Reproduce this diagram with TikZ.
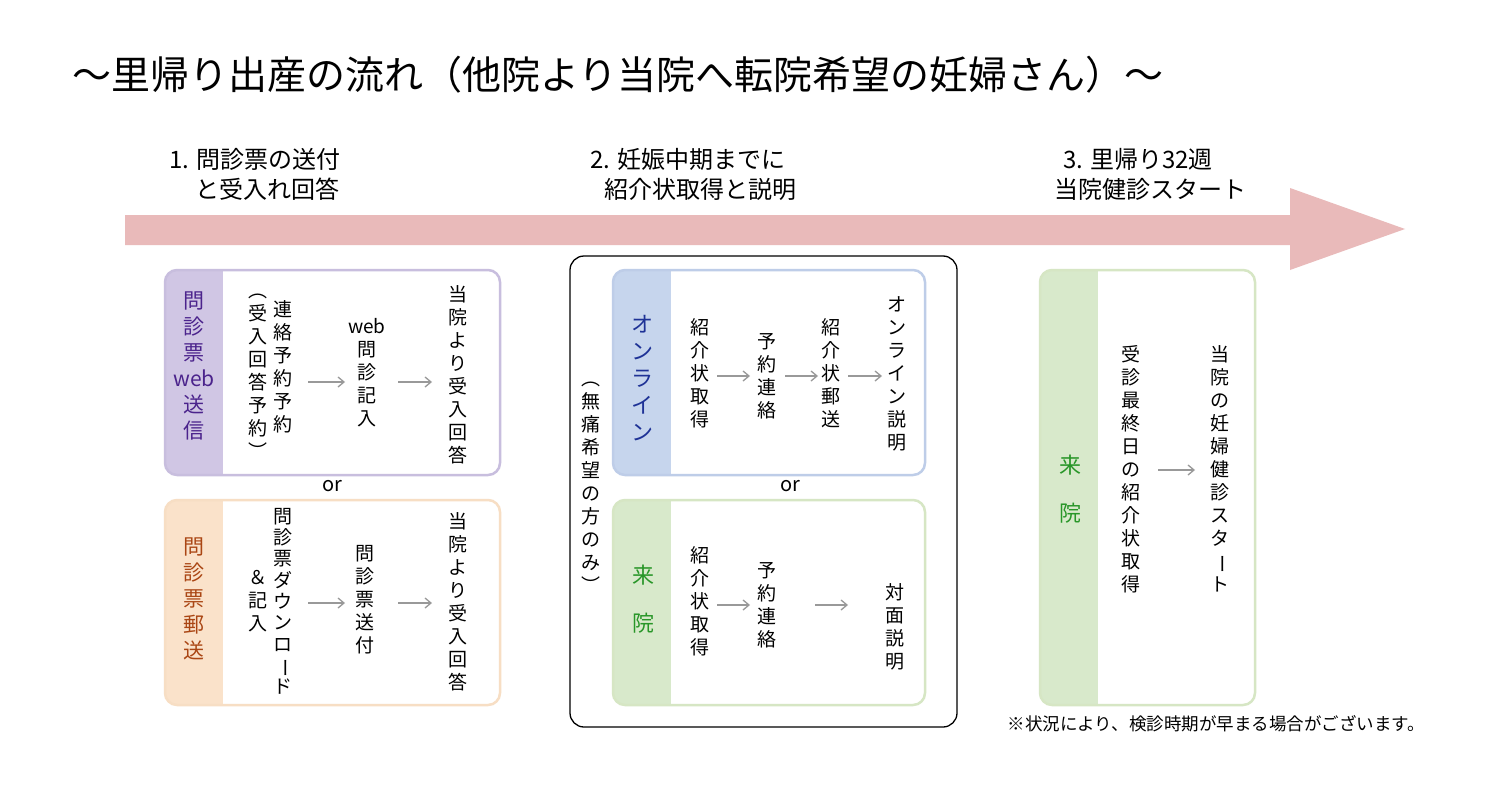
\documentclass[tikz,border=0pt]{standalone}
\usepackage{fontspec}
\setmainfont{Noto Sans CJK JP}
\usetikzlibrary{arrows.meta}
\definecolor{pinkA}{RGB}{233,186,186}
\definecolor{lavB}{RGB}{200,190,222}
\definecolor{lavF}{RGB}{208,198,228}
\definecolor{purT}{RGB}{75,35,140}
\definecolor{peaB}{RGB}{247,222,196}
\definecolor{peaF}{RGB}{250,226,202}
\definecolor{brT}{RGB}{170,70,20}
\definecolor{bluB}{RGB}{190,205,232}
\definecolor{bluF}{RGB}{198,213,237}
\definecolor{bluT}{RGB}{30,50,150}
\definecolor{grnB}{RGB}{214,230,196}
\definecolor{grnF}{RGB}{216,233,203}
\definecolor{grnT}{RGB}{40,150,40}
\newcommand\vb{\rotatebox[origin=c]{-90}{ー}}
\newcommand\mybox[5]{% x1 y1 x2 y2 col
  \fill[white,rounded corners=12pt] (#1,#2) rectangle (#3,#4);
  \begin{scope}
  \clip[rounded corners=12pt] (#1,#2) rectangle (#3,#4);
  \fill[#5F] (#1,#2) rectangle ({#1+58},#4);
  \end{scope}
  \draw[#5B,line width=2.5pt,rounded corners=12pt] (#1,#2) rectangle (#3,#4);}
\tikzset{vt/.style={font=\fontsize{19}{23}\selectfont,align=center,inner sep=0pt,anchor=north},
  lab/.style={font=\fontsize{24}{30}\selectfont,align=center,inner sep=0pt,anchor=north},
  ar/.style={-{Straight Barb[length=6pt,width=10pt]},gray!80,line width=1.3pt}}
\begin{document}
\begin{tikzpicture}[x=1pt,y=-1pt]
\useasboundingbox (0,0) rectangle (1500,792);
\fill[white] (0,0) rectangle (1500,792);
\node[anchor=west,inner sep=0,font=\fontsize{39}{44}\selectfont] (title) at (72,75) {〜里帰り出産の流れ（他院より当院へ転院希望の妊婦さん）〜};
% arrow
\fill[pinkA] (125,215) -- (1290,215) -- (1290,188) -- (1405,229) -- (1290,270) -- (1290,245) -- (125,245) -- cycle;
\node[lab] (s1) at (255,148) {1. 問診票の送付\\\hspace{1em}と受入れ回答};
\node[lab] (s2) at (688,148) {2. 妊娠中期までに\\\hspace{1em}紹介状取得と説明};
\node[lab] (s3) at (1138,148) {3. 里帰り32週\\\hspace{1em}当院健診スタート};
% box1
\mybox{165}{270}{500}{475}{lav}
\node[vt,purT,font=\fontsize{21}{26}\selectfont] (h1) at (194,292) {問\\診\\票\\web\\送\\信};
\node[vt] (a1) at (283,300) {連\\絡\\予\\約\\予\\約};
\node[vt] (a1b) at (258,294) {︵\\受\\入\\回\\答\\予\\約\\︶};
\node[vt] (a2) at (367,318) {web\\問\\診\\記\\入};
\node[vt] (a3) at (458,285) {当\\院\\よ\\り\\受\\入\\回\\答};
\draw[ar] (308,382) -- (345,382);
\draw[ar] (398,382) -- (432,382);
\node[font=\fontsize{20}{24}\selectfont] (or1) at (332,486) {or};
% box2
\mybox{165}{500}{500}{705}{pea}
\node[vt,brT,font=\fontsize{21}{26}\selectfont] (h2) at (194,538) {問\\診\\票\\郵\\送};
\node[vt,font=\fontsize{19}{21.3}\selectfont] (b1) at (283,508) {問\\診\\票\\ダ\\ウ\\ン\\ロ\\\vb\\ド};
\node[vt] (b1b) at (258,570) {＆\\記\\入};
\node[vt] (b2) at (365,545) {問\\診\\票\\送\\付};
\node[vt] (b3) at (458,512) {当\\院\\よ\\り\\受\\入\\回\\答};
\draw[ar] (308,603) -- (345,603);
\draw[ar] (398,603) -- (432,603);
% big box
\draw[black,line width=1.3pt,rounded corners=14pt] (570,256) rectangle (957,727);
\node[vt] (mu) at (591,382) {︵\\無\\痛\\希\\望\\の\\方\\の\\み\\︶};
\mybox{613}{270}{925}{475}{blu}
\node[vt,bluT,font=\fontsize{22}{27}\selectfont] (h3) at (642,315) {オ\\ン\\ラ\\イ\\ン};
\node[vt] (c1) at (700,318) {紹\\介\\状\\取\\得};
\node[vt] (c2) at (767,333) {予\\約\\連\\絡};
\node[vt] (c3) at (831,318) {紹\\介\\状\\郵\\送};
\node[vt] (c4) at (897,296) {オ\\ン\\ラ\\イ\\ン\\説\\明};
\draw[ar] (717,376) -- (750,376);
\draw[ar] (785,376) -- (818,376);
\draw[ar] (848,376) -- (882,376);
\node[font=\fontsize{20}{24}\selectfont] (or2) at (790,486) {or};
\mybox{613}{500}{925}{705}{grn}
\node[vt,grnT,font=\fontsize{22}{48}\selectfont] (h4) at (643,565) {来\\院};
\node[vt] (d1) at (700,546) {紹\\介\\状\\取\\得};
\node[vt] (d2) at (767,562) {予\\約\\連\\絡};
\node[vt] (d3) at (895,583) {対\\面\\説\\明};
\draw[ar] (717,605) -- (750,605);
\draw[ar] (815,605) -- (848,605);
% box3
\mybox{1040}{270}{1255}{705}{grn}
\node[vt,grnT,font=\fontsize{22}{48}\selectfont] (h5) at (1070,455) {来\\院};
\node[vt] (e1) at (1131,345) {受\\診\\最\\終\\日\\の\\紹\\介\\状\\取\\得};
\node[vt] (e2) at (1220,345) {当\\院\\の\\妊\\婦\\健\\診\\ス\\タ\\\vb\\ト};
\draw[ar] (1158,470) -- (1195,470);
\node[anchor=east,inner sep=0,font=\fontsize{17.5}{20}\selectfont] (note) at (1425,724) {※状況により、検診時期が早まる場合がございます。};
\end{tikzpicture}
\end{document}
